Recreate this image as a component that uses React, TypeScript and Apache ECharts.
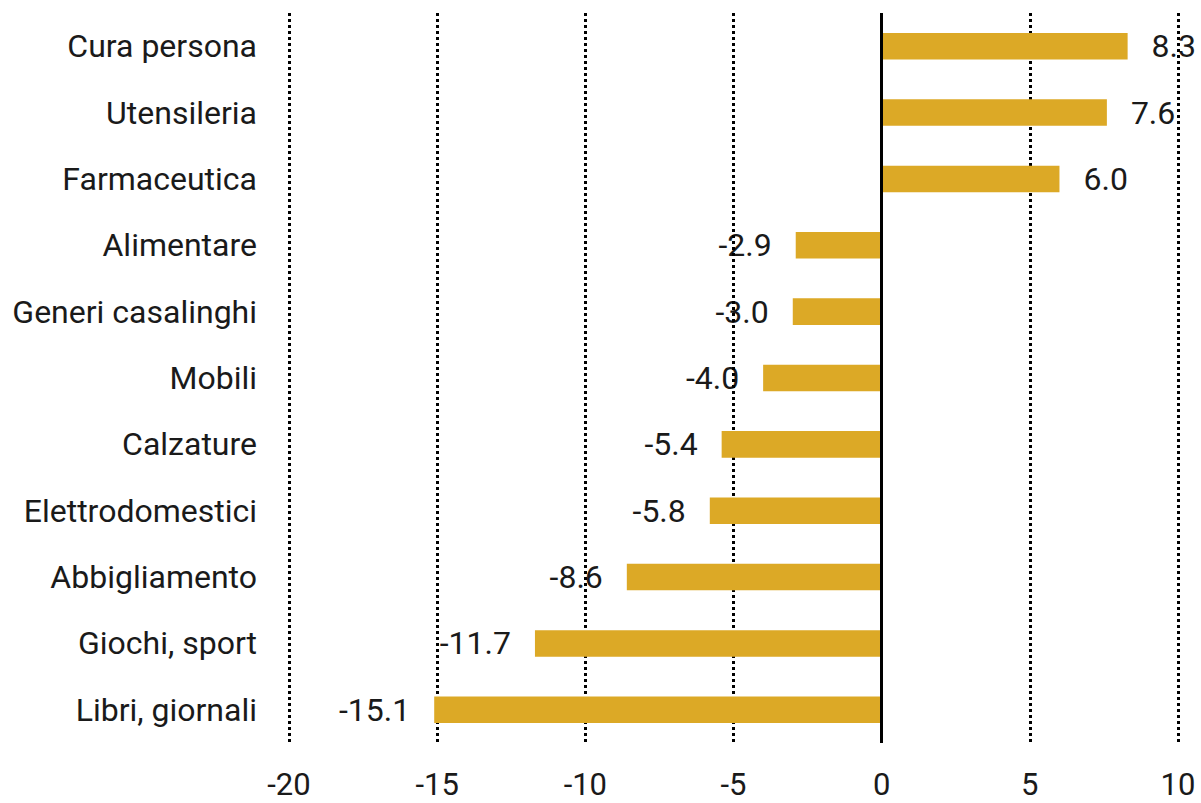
import React, { useEffect, useRef } from "react";
import * as echarts from "echarts";

const categories = [
  "Cura persona",
  "Utensileria",
  "Farmaceutica",
  "Alimentare",
  "Generi casalinghi",
  "Mobili",
  "Calzature",
  "Elettrodomestici",
  "Abbigliamento",
  "Giochi, sport",
  "Libri, giornali",
];
const values = [8.3, 7.6, 6.0, -2.9, -3.0, -4.0, -5.4, -5.8, -8.6, -11.7, -15.1];
const xMin = -20;
const xMax = 10;
const xStep = 5;

const FONT = "Roboto";
const TEXT = "#1a1a1a";
const BAR = "#DCA926";

export default function App() {
  const ref = useRef<HTMLDivElement>(null);
  useEffect(() => {
    if (!ref.current) return;
    const chart = echarts.init(ref.current, undefined, { renderer: "svg" });
    chart.setOption({
      animation: false,
      backgroundColor: "#ffffff",
      grid: { left: 289, right: 23, top: 13, bottom: 60, containLabel: false },
      xAxis: {
        type: "value",
        min: xMin,
        max: xMax,
        interval: xStep,
        axisLine: { show: false },
        axisTick: { show: false },
        axisLabel: { fontFamily: FONT, fontSize: 31, color: TEXT, margin: 26 },
        splitLine: {
          show: true,
          lineStyle: { color: "#000", width: 3, type: [3, 3] },
        },
      },
      yAxis: {
        type: "category",
        data: categories,
        inverse: true,
        axisLine: { show: false },
        axisTick: { show: false },
        splitLine: { show: false },
        axisLabel: { fontFamily: FONT, fontSize: 32, color: TEXT, margin: 32 },
      },
      series: [
        {
          type: "bar",
          name: "labels",
          z: -1,
          silent: true,
          barWidth: "40%",
          barGap: "-100%",
          itemStyle: { color: "rgba(0,0,0,0)" },
          data: values.map((v) => ({
            value: v,
            label: {
              show: true,
              position: v >= 0 ? "right" : "left",
              distance: 24,
              formatter: () => v.toFixed(1),
              fontFamily: FONT,
              fontSize: 32,
              color: TEXT,
            },
          })),
        },
        {
          type: "bar",
          name: "values",
          z: 2,
          barWidth: "40%",
          barGap: "-100%",
          itemStyle: { color: BAR },
          data: values,
          markLine: {
            silent: true,
            symbol: "none",
            label: { show: false },
            lineStyle: { color: "#000", width: 3, type: "solid" },
            data: [{ xAxis: 0 }],
          },
        },
      ],
    });
    return () => chart.dispose();
  }, []);
  return (
    <div
      ref={ref}
      style={{ position: "absolute", left: 0, top: 0, width: 1201, height: 803 }}
    />
  );
}
